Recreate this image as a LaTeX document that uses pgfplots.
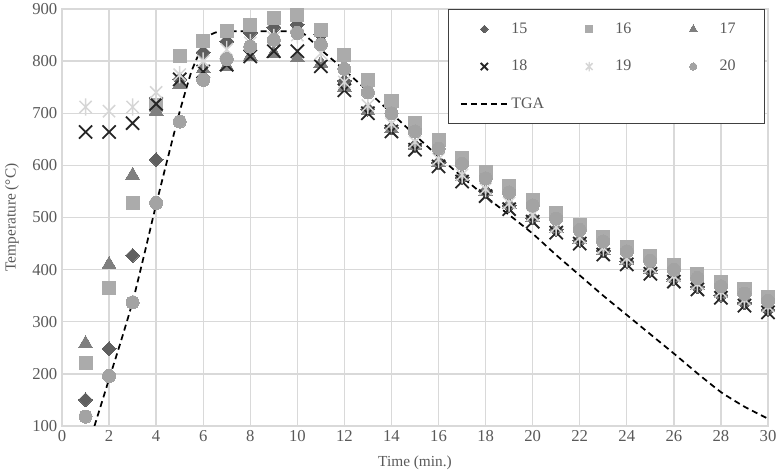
\documentclass[border=0pt]{standalone}
\usepackage{fontspec}
\setmainfont{Liberation Serif}
\usepackage{pgfplots}
\usepackage{pgfplotstable}
\pgfplotsset{compat=1.18}

\definecolor{c15}{HTML}{5F5F5F}
\definecolor{c16}{HTML}{ABABAB}
\definecolor{c17}{HTML}{7F7F7F}
\definecolor{c18}{HTML}{262626}
\definecolor{c19}{HTML}{D6D6D6}
\definecolor{c20}{HTML}{A3A3A3}
\definecolor{txt}{HTML}{595959}
\definecolor{gridc}{HTML}{D9D9D9}
\definecolor{legc}{HTML}{404040}

\pgfdeclareplotmark{xstar}{%
  \pgfpathmoveto{\pgfqpoint{-.70710678\pgfplotmarksize}{-.70710678\pgfplotmarksize}}%
  \pgfpathlineto{\pgfqpoint{.70710678\pgfplotmarksize}{.70710678\pgfplotmarksize}}%
  \pgfpathmoveto{\pgfqpoint{-.70710678\pgfplotmarksize}{.70710678\pgfplotmarksize}}%
  \pgfpathlineto{\pgfqpoint{.70710678\pgfplotmarksize}{-.70710678\pgfplotmarksize}}%
  \pgfpathmoveto{\pgfqpoint{0pt}{-\pgfplotmarksize}}%
  \pgfpathlineto{\pgfqpoint{0pt}{\pgfplotmarksize}}%
  \pgfusepathqstroke
}

\pgfplotsset{
  limgm/.style={legend image code/.code={\path[draw=none] (0pt,0pt) (35.25pt,0pt);\draw[mark repeat=2,mark phase=2,##1,only marks,every mark/.append style={scale=0.55}] plot coordinates {(0pt,0pt) (17.6pt,0pt) (35.25pt,0pt)};}},
  limg/.style={legend image code/.code={\draw[##1] (0pt,0pt) -- (35.25pt,0pt);}},
}

\pgfplotstableread{
x s15 s16 s17 s18 s19 s20
1 150 220 258 664 712 118
2 248 365 410 664 704 196
3 427 528 581 681 712 337
4 611 715 704 718 740 528
5 765 809 755 765 774 684
6 817 838 785 780 800 764
7 838 857 790 793 822 804
8 854 870 809 809 835 828
9 865 883 815 819 845 841
10 870 889 806 819 850 854
11 851 860 796 790 815 832
12 762 812 750 744 760 785
13 708 764 705 700 715 740
14 672 723 670 665 680 700
15 638 682 638 630 645 665
16 605 648 605 598 612 632
17 577 615 578 569 582 603
18 550 587 550 541 555 575
19 523 560 525 516 528 548
20 499 533 500 492 505 523
21 477 508 478 471 482 498
22 456 485 457 450 462 476
23 436 463 437 429 442 454
24 416 444 418 410 422 435
25 398 426 400 392 405 417
26 382 408 385 377 388 400
27 367 392 370 362 373 384
28 351 377 355 346 358 368
29 336 362 340 331 343 354
30 323 348 327 318 330 340
}\meas

\pgfplotstableread{
x y
1.38 100
2 190
2.5 262
3 338
3.5 430
4 525
4.5 615
5 703
5.5 780
6 832
6.3 850
6.6 856
7 857
10 857
10.5 843
11 822
12 783
13 742
14 700
15 658
16 617
17 578
18 540
19 505
20 469
21 428
22 389
23 350
24 313
25 276
26 239
27 201
28 165
29 137
30 114
}\tga

\newcommand{\lw}[1]{\makebox[38.8pt][l]{#1}}
\newcommand{\lr}[1]{\makebox[23.5pt][l]{#1}}

\begin{document}
\begin{tikzpicture}
\begin{axis}[
  scale only axis,
  width=529.5pt, height=312.75pt,
  xmin=0, xmax=30, ymin=100, ymax=900,
  xtick={0,2,...,30}, ytick={100,200,...,900},
  grid=major,
  major grid style={draw=gridc, line width=1pt},
  axis line style={draw=gridc, line width=1pt},
  tick style={draw=none},
  /pgf/number format/assume math mode=true,
  ticklabel style={font=\rmfamily\fontsize{12.5}{14}\selectfont, text=txt},
  xlabel={Time (min.)},
  ylabel={Temperature (°C)},
  every axis x label/.style={at={([yshift=-27.75pt]axis description cs:0.5,0)}, anchor=center, font=\fontsize{11.5}{13}\selectfont, text=txt},
  every axis y label/.style={at={([xshift=-37.5pt]axis description cs:0,0.5)}, rotate=90, anchor=center, font=\fontsize{11.5}{13}\selectfont, text=txt},
  legend columns=3,
  legend cell align=left,
  legend style={at={([xshift=-2.25pt]1,1)}, anchor=north east, draw=legc, line width=0.75pt, fill=white,
    font=\fontsize{12}{14}\selectfont, text=txt,
    inner xsep=8.25pt, inner ysep=8pt, row sep=14.6pt},
]
\addplot[only marks, limgm, mark=square*, mark size=3.7pt, mark options={rotate=45, fill=c15, draw=c15, line width=0pt}] table[x=x,y=s15]{\meas};
\addlegendentry{\lw{15}}
\addplot[only marks, limgm, mark=square*, mark size=4.9pt, mark options={fill=c16, draw=c16, line width=0pt}] table[x=x,y=s16]{\meas};
\addlegendentry{\lw{16}}
\addplot[only marks, limgm, mark=triangle*, mark size=6pt, mark options={fill=c17, draw=c17, line width=0pt}] table[x=x,y=s17]{\meas};
\addlegendentry{\lr{17}}
\addplot[only marks, limgm, mark=x, mark size=7pt, mark options={draw=c18, line width=1.35pt}] table[x=x,y=s18]{\meas};
\addlegendentry{\lw{18}}
\addplot[only marks, limgm, mark=xstar, mark size=6.5pt, mark options={draw=c19, line width=1.1pt}] table[x=x,y=s19]{\meas};
\addlegendentry{\lw{19}}
\addplot[only marks, limgm, mark=*, mark size=4.9pt, mark options={fill=c20, draw=c20, line width=0pt}] table[x=x,y=s20]{\meas};
\addlegendentry{\lr{20}}
\addplot[black, limg, line width=1.3pt, dash pattern=on 4.5pt off 3pt, smooth, tension=0.3] table[x=x,y=y]{\tga};
\addlegendentry{\lw{TGA}}
\end{axis}
\pgfresetboundingbox
\path[use as bounding box] ([xshift=-46.5pt,yshift=-37.5pt]current axis.south west) rectangle ([xshift=6.75pt,yshift=6.75pt]current axis.north east);
\end{tikzpicture}
\end{document}
